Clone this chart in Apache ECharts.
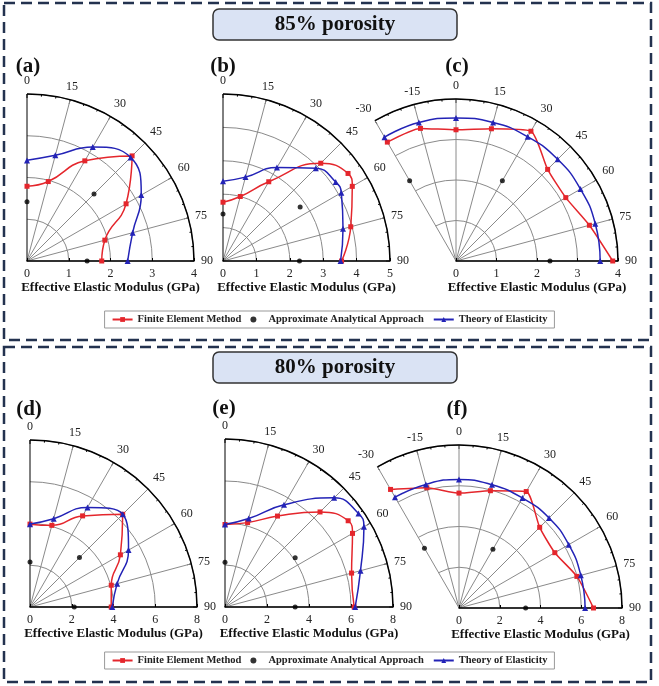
<!DOCTYPE html>
<html>
<head>
<meta charset="utf-8">
<script src="https://cdn.jsdelivr.net/npm/echarts@6/dist/echarts.min.js"></script>
<style>
  html, body { margin: 0; padding: 0; background: #fff; }
  #main { width: 659px; height: 686px; }
</style>
</head>
<body>
<div id="main"></div>
<script>
// angles (deg)
const anglesQ = [0, 15, 30, 45, 60, 75, 90];
const anglesQ55 = [0, 15, 30, 45, 55, 60, 75, 90];
const anglesW = [-30, -15, 0, 15, 30, 45, 60, 75, 90];

// 85% porosity
const femA = [1.79, 1.97, 2.77, 3.56, 2.74, 1.93, 1.79];
const toeA = [2.41, 2.62, 3.15, 3.51, 3.16, 2.62, 2.41];
const aaaAngA = [0, 45, 90];
const aaaA = [1.42, 2.27, 1.44];

const femB = [1.76, 2.00, 2.74, 4.14, 4.57, 4.47, 3.96, 3.55];
const toeB = [2.39, 2.60, 3.23, 3.93, 4.12, 4.09, 3.72, 3.52];
const aaaAngB = [0, 55, 90];
const aaaB = [1.41, 2.82, 2.29];

const femC = [3.39, 3.39, 3.24, 3.38, 3.70, 3.20, 3.13, 3.41, 3.87];
const toeC = [3.53, 3.54, 3.53, 3.54, 3.54, 3.55, 3.55, 3.56, 3.56];
const aaaAngC = [-30, 30, 90];
const aaaC = [2.29, 2.29, 2.32];

// 80% porosity
const femD = [3.97, 4.05, 5.04, 6.28, 5.00, 4.03, 3.89];
const toeD = [3.97, 4.38, 5.51, 6.29, 5.45, 4.32, 3.94];
const aaaAngD = [0, 45, 90];
const aaaD = [2.16, 3.35, 2.12];

const femE = [3.93, 4.16, 5.00, 6.40, 7.16, 7.01, 6.24, 6.15];
const toeE = [3.93, 4.36, 5.62, 7.35, 7.76, 7.64, 6.68, 6.20];
const aaaAngE = [0, 55, 90];
const aaaE = [2.13, 4.08, 3.34];

const femF = [6.72, 6.11, 5.64, 5.96, 6.60, 5.60, 5.43, 5.99, 6.60];
const toeF = [6.28, 6.28, 6.31, 6.26, 6.23, 6.25, 6.22, 6.19, 6.19];
const aaaAngF = [-30, 30, 90];
const aaaF = [3.39, 3.33, 3.27];

const NAME_FEM = 'Finite Element Method';
const NAME_AAA = 'Approximate Analytical Approach';
const NAME_TOE = 'Theory of Elasticity';
const RED = '#e4262c';
const BLUE = '#2323b6';
const SERIF = '"Liberation Serif", "Times New Roman", serif';

// layout of each panel
const panels = [
  { label: '(a)', lx: 28, ly: 67, center: [27, 261], radius: 167, max: 4, interval: 1, wide: false,
    ang: anglesQ, fem: femA, toe: toeA, aaaAng: aaaAngA, aaa: aaaA },
  { label: '(b)', lx: 223, ly: 67, center: [223, 261], radius: 167, max: 5, interval: 1, wide: false,
    ang: anglesQ55, fem: femB, toe: toeB, aaaAng: aaaAngB, aaa: aaaB },
  { label: '(c)', lx: 457, ly: 67, center: [456, 261], radius: 162, max: 4, interval: 1, wide: true,
    ang: anglesW, fem: femC, toe: toeC, aaaAng: aaaAngC, aaa: aaaC },
  { label: '(d)', lx: 29, ly: 410, center: [30, 607], radius: 167, max: 8, interval: 2, wide: false,
    ang: anglesQ, fem: femD, toe: toeD, aaaAng: aaaAngD, aaa: aaaD },
  { label: '(e)', lx: 224, ly: 409, center: [225, 607], radius: 168, max: 8, interval: 2, wide: false,
    ang: anglesQ55, fem: femE, toe: toeE, aaaAng: aaaAngE, aaa: aaaE },
  { label: '(f)', lx: 457, ly: 410, center: [459, 608], radius: 163, max: 8, interval: 2, wide: true,
    ang: anglesW, fem: femF, toe: toeF, aaaAng: aaaAngF, aaa: aaaF }
];

// angle 0 on top, 90 on the right: plot (90 - angle) counter-clockwise from the right
function pts(rs, angs) {
  return rs.map((r, i) => [r, 90 - angs[i]]);
}

const polar = [], angleAxis = [], radiusAxis = [], series = [], graphic = [];

panels.forEach((p, i) => {
  const span = p.wide ? 120 : 90;
  polar.push({ center: p.center, radius: p.radius });
  const spokeColors = [];
  for (let k = 0; k <= span / 15; k++) spokeColors.push('#8a8a8a');
  if (!p.wide) spokeColors[spokeColors.length - 1] = '#000';
  angleAxis.push({
    polarIndex: i, type: 'value', min: 0, max: span, interval: 15,
    startAngle: 0, endAngle: span, clockwise: false,
    axisLine: { lineStyle: { color: '#000', width: 1.5 } },
    axisTick: { show: true, inside: true, length: 4, lineStyle: { color: '#000' } },
    minorTick: { show: true, splitNumber: 3, length: 2, lineStyle: { color: '#000' } },
    axisLabel: { formatter: v => String(90 - v), fontFamily: SERIF, fontSize: 12, color: '#222', margin: 7 },
    splitLine: { show: true, lineStyle: { color: spokeColors, width: 1 } }
  });
  radiusAxis.push({
    polarIndex: i, type: 'value', min: 0, max: p.max, interval: p.interval,
    axisLine: { lineStyle: { color: '#000', width: 1.5 } },
    axisTick: { show: true, length: 3, lineStyle: { color: '#000' } },
    axisLabel: { fontFamily: SERIF, fontSize: 12, color: '#222', margin: -7, verticalAlign: 'top' },
    splitLine: { show: true, lineStyle: { color: '#8a8a8a', width: 1 } },
    name: 'Effective Elastic Modulus (GPa)', nameLocation: 'middle', nameGap: 15,
    nameTextStyle: { fontFamily: SERIF, fontWeight: 'bold', fontSize: 13, color: '#111' }
  });
  series.push({
    type: 'line', name: NAME_FEM, coordinateSystem: 'polar', polarIndex: i,
    data: pts(p.fem, p.ang), smooth: p.wide ? 0.2 : 0.5,
    symbol: 'rect', symbolSize: 5,
    lineStyle: { color: RED, width: 1.5 }, itemStyle: { color: RED }, z: 4
  });
  series.push({
    type: 'scatter', name: NAME_AAA, coordinateSystem: 'polar', polarIndex: i,
    data: pts(p.aaa, p.aaaAng), symbol: 'circle', symbolSize: 5,
    itemStyle: { color: '#000' }, z: 3
  });
  series.push({
    type: 'line', name: NAME_TOE, coordinateSystem: 'polar', polarIndex: i,
    data: pts(p.toe, p.ang), smooth: 0.5,
    symbol: 'triangle', symbolSize: 6,
    lineStyle: { color: BLUE, width: 1.5 }, itemStyle: { color: BLUE }, z: 5
  });
  graphic.push({
    type: 'text', x: p.lx, y: p.ly,
    style: { text: p.label, fontFamily: SERIF, fontWeight: 'bold', fontSize: 21, fill: '#111',
             align: 'center', verticalAlign: 'middle' }
  });
});

// dashed panel frames and porosity headers
[[3, 340], [347, 682]].forEach(([y0, y1]) => {
  graphic.push({
    type: 'rect', shape: { x: 4, y: y0, width: 647, height: y1 - y0 },
    style: { fill: 'none', stroke: '#23324f', lineWidth: 2.5, lineDash: [11, 6] }
  });
});
[['85% porosity', 9], ['80% porosity', 352]].forEach(([t, y]) => {
  graphic.push({
    type: 'rect', shape: { x: 213, y: y, width: 244, height: 31, r: 6 },
    style: { fill: '#dae3f4', stroke: '#333', lineWidth: 1.5 }
  });
  graphic.push({
    type: 'text', x: 335, y: y + 16,
    style: { text: t, fontFamily: SERIF, fontWeight: 'bold', fontSize: 21, fill: '#111',
             align: 'center', verticalAlign: 'middle' }
  });
});

const legendBase = {
  left: 'center', itemWidth: 20, itemHeight: 6, itemGap: 9,
  padding: [3, 7], borderColor: '#999', borderWidth: 1, backgroundColor: '#fff',
  data: [NAME_FEM, NAME_AAA, NAME_TOE],
  textStyle: { fontFamily: SERIF, fontWeight: 'bold', fontSize: 10.5, color: '#222' }
};

const chart = echarts.init(document.getElementById('main'), null, { renderer: 'canvas' });
chart.setOption({
  backgroundColor: '#fff',
  animation: false,
  polar, angleAxis, radiusAxis, series, graphic,
  legend: [
    Object.assign({}, legendBase, { top: 311 }),
    Object.assign({}, legendBase, { top: 652 })
  ]
});
</script>
</body>
</html>
